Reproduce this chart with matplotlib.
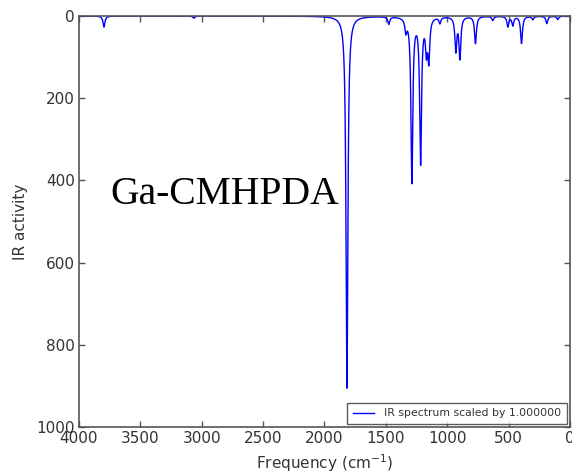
import numpy as np
import matplotlib
matplotlib.use("Agg")
import matplotlib.pyplot as plt

# Peak positions (cm^-1) and IR activities
peak_freqs = [3796, 3064, 1817, 1476, 1337, 1288, 1217, 1170, 1150, 1060,
              930, 897, 770, 629, 506, 466, 395, 303, 189, 100]
peak_heights = [27, 5, 905, 18, 30, 400, 352, 75, 100, 15,
                82, 100, 66, 10, 25, 22, 66, 8, 18, 8]
x_ticks = [4000, 3500, 3000, 2500, 2000, 1500, 1000, 500, 0]
y_ticks = [0, 200, 400, 600, 800, 1000]
legend_label = "IR spectrum scaled by 1.000000"
sample_name = "Ga-CMHPDA"

# Lorentzian broadening of the stick spectrum
gamma = 9.0
freq = np.linspace(4000, 0, 8001)
activity = np.zeros_like(freq)
for f0, h in zip(peak_freqs, peak_heights):
    activity += h * gamma**2 / ((freq - f0) ** 2 + gamma**2)

fig = plt.figure(figsize=(5.72, 4.73), dpi=100)
ax = fig.add_axes([0.138, 0.097, 0.8585, 0.869])

ax.plot(freq, activity, color="blue", lw=1.0, label=legend_label)
ax.set_xlim(4000, 0)
ax.set_ylim(1000, 0)
ax.set_xticks(x_ticks)
ax.set_yticks(y_ticks)

dark = "#333333"
for s in ax.spines.values():
    s.set_color("#555555")
    s.set_linewidth(1.2)
ax.tick_params(direction="in", top=True, right=True, length=4, width=1,
               color="#555555", labelcolor=dark, labelsize=11, pad=3)

ax.set_xlabel("Frequency (cm$^{-1}$)", fontsize=11, color=dark, labelpad=4)
ax.set_ylabel("IR activity", fontsize=11, color=dark, labelpad=6)

ax.text(0.065, 0.565, sample_name, transform=ax.transAxes,
        family="Liberation Serif", fontsize=28.5, color="black",
        va="center", ha="left")

leg = ax.legend(loc="lower right", fontsize=7.8, frameon=True, fancybox=False,
                borderaxespad=0.3, handlelength=2.0, handletextpad=0.9,
                borderpad=0.5)
leg.get_frame().set_edgecolor("#333333")
leg.get_frame().set_linewidth(1.0)
for t in leg.get_texts():
    t.set_color(dark)

fig.savefig("out.png", dpi=100, facecolor="white")
